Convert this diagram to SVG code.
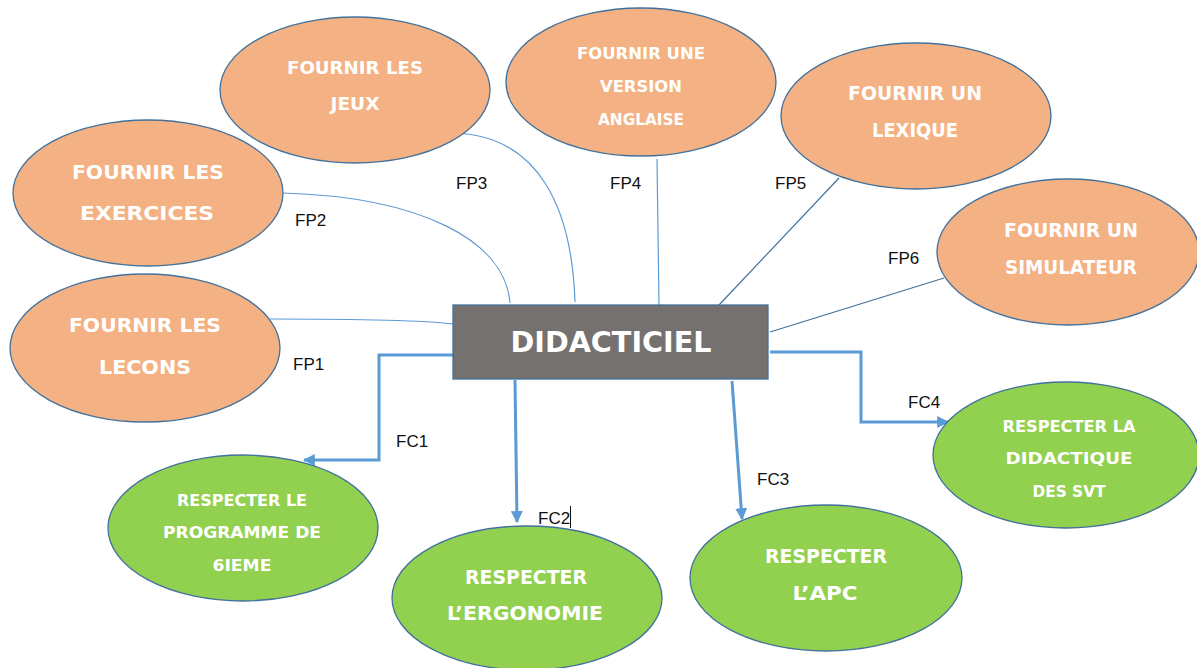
<svg xmlns="http://www.w3.org/2000/svg" width="1197" height="668" viewBox="0 0 1197 668">
<style>
.fp{fill:#f4b183;stroke:#41719c;stroke-width:1.3}
.fc{fill:#92d050;stroke:#41719c;stroke-width:1.3}
.nt{fill:#ffffff;font-family:"DejaVu Sans",sans-serif;font-weight:bold;text-anchor:middle}
.lb{fill:#111111;font-family:"Liberation Sans",Arial,sans-serif;font-size:17px}
.thin{fill:none;stroke:#5b9bd5;stroke-width:1.2}
.thick{fill:none;stroke:#5b9bd5;stroke-width:3}
</style>
<defs>
<marker id="arr" viewBox="0 0 10 10" refX="9" refY="5" markerWidth="4" markerHeight="4" orient="auto" markerUnits="strokeWidth">
<path d="M0,0 L10,5 L0,10 z" fill="#5b9bd5"/>
</marker>
</defs>
<rect width="1197" height="668" fill="#ffffff"/>

<g id="connectors">
<path class="thin" d="M270,319 C360,319 420,320 453,324"/>
<path class="thin" d="M283,193 C420,197 505,240 510,303"/>
<path class="thin" d="M453,133 C540,135 572,210 575,302"/>
<path class="thin" d="M657,159 L659,305"/>
<path class="thin" d="M839,178 L719,305" style="stroke:#41719c"/>
<path class="thin" d="M944,278 L770,332" style="stroke:#41719c"/>
<path class="thick" d="M453,355 L379,355 L379,460 L304,460" marker-end="url(#arr)"/>
<path class="thick" d="M515,380 L517,522" marker-end="url(#arr)"/>
<path class="thick" d="M732,381 L742,519" marker-end="url(#arr)"/>
<path class="thick" d="M770,352 L861,352 L861,422 L948,422" marker-end="url(#arr)"/>
</g>

<g id="labels">
<text class="lb" x="293" y="370">FP1</text>
<text class="lb" x="295" y="226">FP2</text>
<text class="lb" x="456" y="189">FP3</text>
<text class="lb" x="610" y="189">FP4</text>
<text class="lb" x="775" y="189">FP5</text>
<text class="lb" x="888" y="264">FP6</text>
<text class="lb" x="396" y="447">FC1</text>
<text class="lb" x="538" y="524">FC2</text>
<line x1="570.5" y1="506" x2="570.5" y2="528" stroke="#111111" stroke-width="1"/>
<text class="lb" x="757" y="485">FC3</text>
<text class="lb" x="908" y="408">FC4</text>
</g>

<g id="didacticiel">
<rect x="453" y="305" width="315" height="74" fill="#767171" stroke="#41719c" stroke-width="1.3"/>
<text class="nt" x="611" y="352" font-size="28" textLength="201" lengthAdjust="spacingAndGlyphs">DIDACTICIEL</text>
</g>

<g id="fp1">
<ellipse class="fp" cx="145" cy="348" rx="135" ry="74"/>
<text class="nt" x="145" y="332" font-size="20" textLength="152" lengthAdjust="spacingAndGlyphs">FOURNIR LES</text>
<text class="nt" x="145" y="374" font-size="20" textLength="92" lengthAdjust="spacingAndGlyphs">LECONS</text>
</g>

<g id="fp2">
<ellipse class="fp" cx="148" cy="193" rx="135" ry="73"/>
<text class="nt" x="148" y="179" font-size="20" textLength="152" lengthAdjust="spacingAndGlyphs">FOURNIR LES</text>
<text class="nt" x="147" y="220" font-size="20" textLength="134" lengthAdjust="spacingAndGlyphs">EXERCICES</text>
</g>

<g id="fp3">
<ellipse class="fp" cx="355" cy="90" rx="135" ry="73"/>
<text class="nt" x="355" y="74" font-size="18" textLength="136" lengthAdjust="spacingAndGlyphs">FOURNIR LES</text>
<text class="nt" x="355" y="110" font-size="18" textLength="49" lengthAdjust="spacingAndGlyphs">JEUX</text>
</g>

<g id="fp4">
<ellipse class="fp" cx="641" cy="82" rx="135" ry="74"/>
<text class="nt" x="641" y="59" font-size="16" textLength="128" lengthAdjust="spacingAndGlyphs">FOURNIR UNE</text>
<text class="nt" x="641" y="92" font-size="16" textLength="82" lengthAdjust="spacingAndGlyphs">VERSION</text>
<text class="nt" x="641" y="125" font-size="16" textLength="86" lengthAdjust="spacingAndGlyphs">ANGLAISE</text>
</g>

<g id="fp5">
<ellipse class="fp" cx="916" cy="116" rx="135" ry="73"/>
<text class="nt" x="915" y="100" font-size="20" textLength="134" lengthAdjust="spacingAndGlyphs">FOURNIR UN</text>
<text class="nt" x="915" y="137" font-size="20" textLength="86" lengthAdjust="spacingAndGlyphs">LEXIQUE</text>
</g>

<g id="fp6">
<ellipse class="fp" cx="1068" cy="252" rx="131" ry="73"/>
<text class="nt" x="1071" y="237" font-size="20" textLength="134" lengthAdjust="spacingAndGlyphs">FOURNIR UN</text>
<text class="nt" x="1071" y="274" font-size="20" textLength="132" lengthAdjust="spacingAndGlyphs">SIMULATEUR</text>
</g>

<g id="fc1">
<ellipse class="fc" cx="243" cy="528" rx="135" ry="73"/>
<text class="nt" x="242" y="506" font-size="16" textLength="130" lengthAdjust="spacingAndGlyphs">RESPECTER LE</text>
<text class="nt" x="242" y="538" font-size="16" textLength="158" lengthAdjust="spacingAndGlyphs">PROGRAMME DE</text>
<text class="nt" x="242" y="571" font-size="16" textLength="59" lengthAdjust="spacingAndGlyphs">6IEME</text>
</g>

<g id="fc2">
<ellipse class="fc" cx="527" cy="598" rx="135" ry="72"/>
<text class="nt" x="526" y="584" font-size="20" textLength="122" lengthAdjust="spacingAndGlyphs">RESPECTER</text>
<text class="nt" x="525" y="620" font-size="20" textLength="156" lengthAdjust="spacingAndGlyphs">L’ERGONOMIE</text>
</g>

<g id="fc3">
<ellipse class="fc" cx="826" cy="578" rx="136" ry="73"/>
<text class="nt" x="826" y="563" font-size="20" textLength="122" lengthAdjust="spacingAndGlyphs">RESPECTER</text>
<text class="nt" x="825" y="600" font-size="20" textLength="65" lengthAdjust="spacingAndGlyphs">L’APC</text>
</g>

<g id="fc4">
<ellipse class="fc" cx="1066" cy="455" rx="133" ry="73"/>
<text class="nt" x="1069" y="432" font-size="16" textLength="133" lengthAdjust="spacingAndGlyphs">RESPECTER LA</text>
<text class="nt" x="1069" y="464" font-size="16" textLength="127" lengthAdjust="spacingAndGlyphs">DIDACTIQUE</text>
<text class="nt" x="1069" y="497" font-size="16" textLength="73" lengthAdjust="spacingAndGlyphs">DES SVT</text>
</g>
</svg>
